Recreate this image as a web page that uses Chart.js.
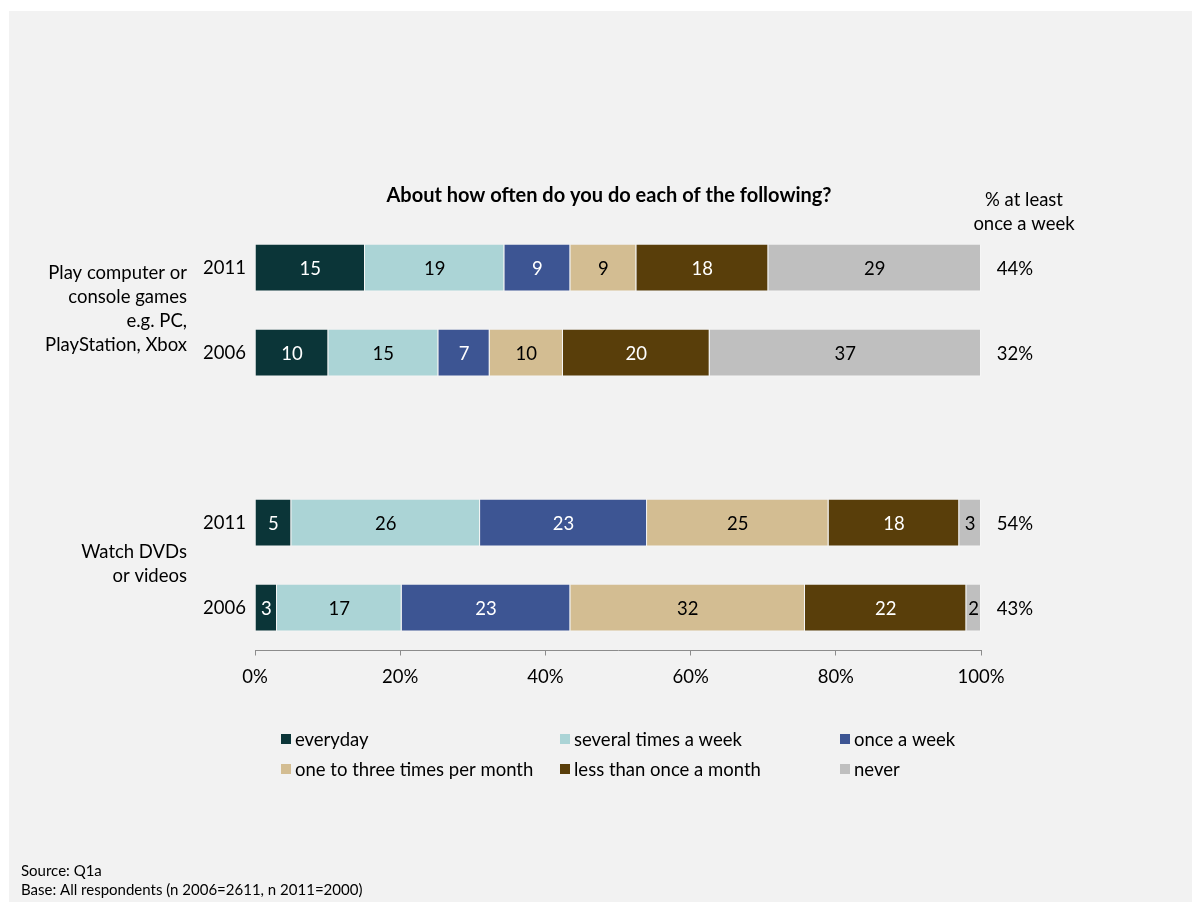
<!DOCTYPE html>
<html>
<head>
<meta charset="utf-8">
<script src="https://cdn.jsdelivr.net/npm/chart.js@4.4.1/dist/chart.umd.min.js"></script>
<style>
  html, body { margin: 0; padding: 0; background: #ffffff; }
  #wrap { position: absolute; left: 0; top: 0; width: 1192px; height: 902px; }
</style>
</head>
<body>
<div id="wrap"><canvas id="c" width="1192" height="902"></canvas></div>
<script>
// Rows: two years per activity, with an empty spacer row between activities
const rowLabels = ['2011', '2006', '', '2011', '2006'];

const seriesNames = [
  'everyday',
  'several times a week',
  'once a week',
  'one to three times per month',
  'less than once a month',
  'never'
];

// Percent of respondents per frequency band (rounded, as printed on the bars)
const everyday           = [15, 10, null,  5,  3];
const severalTimesAWeek  = [19, 15, null, 26, 17];
const onceAWeek          = [ 9,  7, null, 23, 23];
const oneToThreePerMonth = [ 9, 10, null, 25, 32];
const lessThanMonthly    = [18, 20, null, 18, 22];
const never              = [29, 37, null,  3,  2];

// Right-hand column: share doing it at least once a week
const atLeastWeekly = ['44%', '32%', '', '54%', '43%'];

// Activity labels (one per pair of rows)
const activityLabels = [
  ['Play computer or', 'console games', 'e.g. PC,', 'PlayStation, Xbox'],
  ['Watch DVDs', 'or videos']
];
const activityRows = [[0, 1], [3, 4]];

const xTicks = [0, 20, 40, 60, 80, 100];

const seriesValues = [everyday, severalTimesAWeek, onceAWeek, oneToThreePerMonth, lessThanMonthly, never];
const seriesColors = ['#0b3538', '#abd4d6', '#3d5593', '#d3bd92', '#593e0a', '#bfbfbf'];
const labelColors  = ['#ffffff', '#000000', '#ffffff', '#000000', '#ffffff', '#000000'];

// 100% stacked: each segment's length is its share of the row total
const rowTotals = rowLabels.map((_, r) =>
  seriesValues.reduce((s, arr) => s + (arr[r] == null ? 0 : arr[r]), 0));

const FONT = 'Lato, "Open Sans", sans-serif';
const SIZE = 18.5;

const datasets = seriesNames.map((name, i) => ({
  label: name,
  raw: seriesValues[i],
  data: seriesValues[i].map((v, r) => v == null ? null : v / rowTotals[r] * 100),
  backgroundColor: seriesColors[i],
  borderColor: 'rgba(255,255,255,0.35)',
  borderWidth: { left: 0, right: 1, top: 0, bottom: 1 },
  borderSkipped: false,
  categoryPercentage: 1,
  barPercentage: 47 / 85
}));

const decor = {
  id: 'decor',
  beforeDraw(chart) {
    const ctx = chart.ctx;
    ctx.save();
    ctx.fillStyle = '#ffffff';
    ctx.fillRect(0, 0, chart.width, chart.height);
    ctx.fillStyle = '#f2f2f2';
    ctx.fillRect(9, 11, chart.width - 9, chart.height - 11);
    ctx.restore();
  },
  afterDatasetsDraw(chart) {
    const ctx = chart.ctx;
    ctx.save();
    ctx.font = SIZE + 'px ' + FONT;
    ctx.textAlign = 'center';
    ctx.textBaseline = 'middle';
    chart.data.datasets.forEach((ds, i) => {
      const meta = chart.getDatasetMeta(i);
      meta.data.forEach((el, r) => {
        const v = ds.raw[r];
        if (v == null) return;
        ctx.fillStyle = labelColors[i];
        ctx.fillText(String(v), (el.x + el.base) / 2, el.y + 1);
      });
    });
    ctx.restore();
  },
  afterDraw(chart) {
    const ctx = chart.ctx;
    const yScale = chart.scales.y;
    ctx.save();
    ctx.fillStyle = '#000000';
    ctx.textBaseline = 'middle';

    // Title
    ctx.font = 'bold 20px ' + FONT;
    ctx.textAlign = 'center';
    ctx.fillText('About how often do you do each of the following?', 609, 196);

    // Right column header and values
    ctx.font = SIZE + 'px ' + FONT;
    ctx.fillText('% at least', 1024, 200);
    ctx.fillText('once a week', 1024, 224);
    atLeastWeekly.forEach((t, r) => {
      if (!t) return;
      ctx.fillText(t, 1015, yScale.getPixelForValue(r) + 1);
    });

    // Activity labels, centred on their pair of rows
    ctx.textAlign = 'right';
    activityLabels.forEach((lines, g) => {
      const rows = activityRows[g];
      const mid = (yScale.getPixelForValue(rows[0]) + yScale.getPixelForValue(rows[1])) / 2 - 1;
      const lh = 24;
      const start = mid - (lines.length - 1) * lh / 2;
      lines.forEach((ln, k) => ctx.fillText(ln, 187, start + k * lh));
    });

    // Legend: three columns, two rows
    const colX = [281, 560, 840];
    const rowY = [739, 769];
    ctx.textAlign = 'left';
    chart.data.datasets.forEach((ds, i) => {
      const x = colX[i % 3];
      const y = rowY[Math.floor(i / 3)];
      ctx.fillStyle = ds.backgroundColor;
      ctx.fillRect(x, y - 5, 10, 10);
      ctx.fillStyle = '#000000';
      ctx.fillText(ds.label, x + 14, y + 1);
    });

    // Footnotes
    ctx.font = '15px ' + FONT;
    ctx.fillText('Source: Q1a', 21, 871);
    ctx.fillText('Base: All respondents (n 2006=2611, n 2011=2000)', 21, 890);
    ctx.restore();
  }
};

new Chart(document.getElementById('c'), {
  type: 'bar',
  data: { labels: rowLabels, datasets },
  options: {
    indexAxis: 'y',
    responsive: false,
    animation: false,
    devicePixelRatio: 1,
    layout: { padding: { left: 0, right: 211, top: 225.5, bottom: 211.5 } },
    plugins: {
      legend: { display: false },
      tooltip: { enabled: false },
      title: { display: false }
    },
    scales: {
      x: {
        stacked: true,
        min: 0,
        max: 100,
        afterBuildTicks(scale) { scale.ticks = xTicks.map(v => ({ value: v })); },
        afterFit(scale) { scale.height = 40; },
        ticks: {
          callback: v => v + '%',
          font: { family: FONT, size: SIZE },
          color: '#000000',
          padding: 10,
          maxRotation: 0
        },
        grid: {
          display: true,
          drawOnChartArea: false,
          drawTicks: true,
          tickLength: 5,
          color: '#8c8c8c'
        },
        border: { display: true, color: '#8c8c8c', width: 1 }
      },
      y: {
        stacked: true,
        afterFit(scale) { scale.width = 255; },
        ticks: {
          font: { family: FONT, size: SIZE },
          color: '#000000',
          padding: 9
        },
        grid: { display: false, drawTicks: false },
        border: { display: false }
      }
    }
  },
  plugins: [decor]
});
</script>
</body>
</html>
